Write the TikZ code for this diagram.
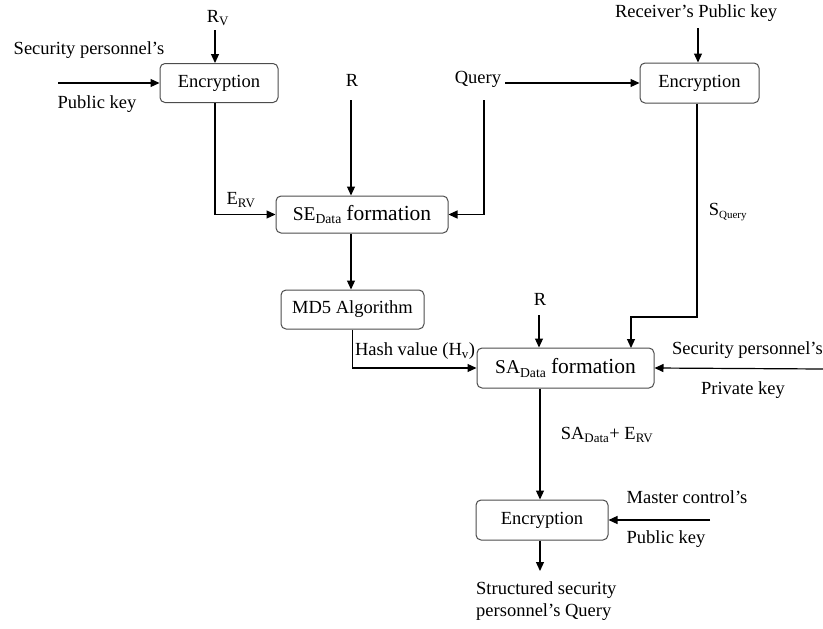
\documentclass[tikz,border=0pt]{standalone}
\usepackage{fontspec}
\setmainfont{Liberation Serif}
\usetikzlibrary{arrows.meta}
\begin{document}
\begin{tikzpicture}[x=1pt,y=-1pt,
  box/.style={draw=black!70,line width=1pt,rounded corners=5pt,inner sep=0pt,
              font=\fontsize{18.5}{20}\selectfont},
  lbl/.style={inner sep=1pt,font=\fontsize{18.5}{22}\selectfont},
  arr/.style={draw=black,line width=1.2pt,-{Triangle[length=9pt,width=8pt]}},
  ln/.style={draw=black,line width=1.2pt}]
\useasboundingbox (0,0) rectangle (823,629);

% processing blocks
\node[box,minimum width=118pt,minimum height=39pt] (enc1) at (219,83) {Encryption};
\node[box,minimum width=119pt,minimum height=40pt] (enc2) at (699.5,83) {Encryption};
\node[box,minimum width=172pt,minimum height=37pt] (se) at (362,214.5)
  {{\fontsize{19.5}{20}\selectfont SE\textsubscript{Data}} {\fontsize{21.5}{24}\selectfont formation}};
\node[box,minimum width=143pt,minimum height=39pt] (md5) at (352.5,309.5) {MD5 Algorithm};
\node[box,minimum width=177pt,minimum height=40pt] (sa) at (565.5,368)
  {{\fontsize{19.5}{20}\selectfont SA\textsubscript{Data}} {\fontsize{21.5}{24}\selectfont formation}};
\node[box,minimum width=132pt,minimum height=40pt] (enc3) at (542,520) {Encryption};

% inputs and outputs
\node[lbl] (rv) at (218,18) {R\textsubscript{V}};
\node[lbl] (sp1) at (89,50) {Security personnel's};
\node[lbl] (pk1) at (97,104) {Public key};
\node[lbl] (r1) at (352,80) {R};
\node[lbl] (query) at (478,79) {Query};
\node[lbl] (rpk) at (696,13) {Receiver's Public key};
\node[lbl] (r2) at (540,299) {R};
\node[lbl,anchor=west] (sp2) at (671,350) {Security personnel's};
\node[lbl] (prk) at (743,390) {Private key};
\node[lbl] (mc) at (687,497) {Master control's};
\node[lbl] (pk3) at (666,539) {Public key};
\node[lbl,align=left,anchor=north west] (out) at (475,580) {Structured security\\personnel's Query};

% edge labels
\node[lbl] (erv) at (241,200) {E\textsubscript{RV}};
\node[lbl] (sq) at (728,212) {S\textsubscript{\fontsize{11}{12}\selectfont Query}};
\node[lbl] (hv) at (415,351) {Hash value (H\textsubscript{v})};
\node[lbl] (sae) at (607,435) {SA\textsubscript{Data}+ E\textsubscript{RV}};

% free ends
\coordinate (in1) at (58,83);
\coordinate (in2) at (823,369);
\coordinate (in3) at (710,520);
\coordinate (q1) at (484,100);
\coordinate (q2) at (505,83);
\coordinate (r1t) at (351,100);
\coordinate (rvt) at (215,30);
\coordinate (rpkt) at (698,28);
\coordinate (r2t) at (539,315);
\coordinate (tip) at (540,571);

% connectors
\draw[arr] (in1) -- (enc1.west);
\draw[arr] (rvt) -- (rvt |- enc1.north);
\draw[arr] ([xshift=-4pt]enc1.south) |- (se.west);
\draw[arr] (r1t) -- (r1t |- se.north);
\draw[arr] (q1) |- (se.east);
\draw[arr] (q2) -- (enc2.west);
\draw[arr] (rpkt) -- (rpkt |- enc2.north);
\draw[arr] ([xshift=-2.5pt]enc2.south) |- (631,317) -- (631,348);
\draw[arr] (se.south -| r1t) -- (r1t |- md5.north);
\draw[arr] (md5.south) |- (sa.west);
\draw[arr] (r2t) -- (r2t |- sa.north);
\draw[arr] (in2) -- (sa.east);
\draw[arr] (sa.south -| tip) -- (tip |- enc3.north);
\draw[arr] (in3) -- (enc3.east);
\draw[arr] (enc3.south -| tip) -- (tip);
\end{tikzpicture}
\end{document}
